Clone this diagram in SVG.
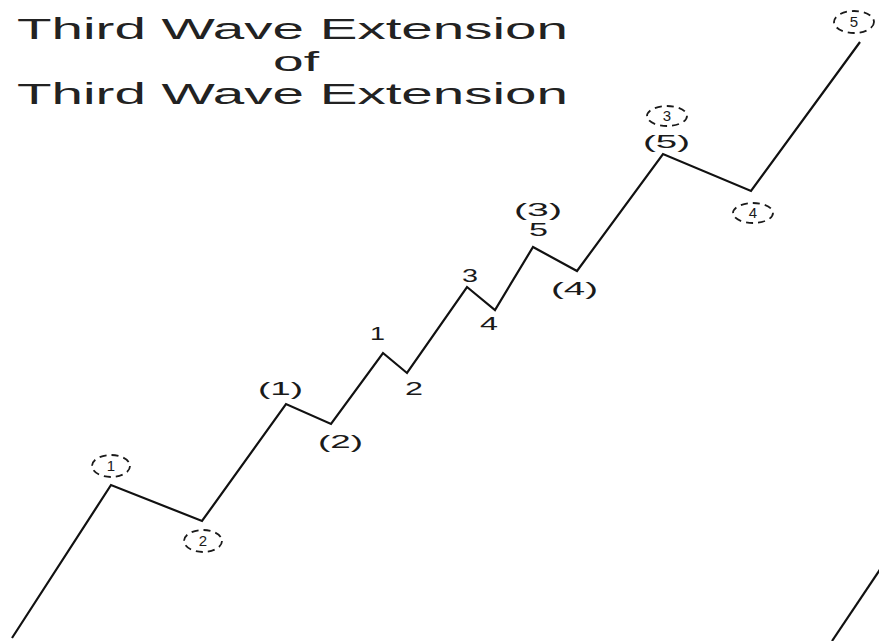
<svg xmlns="http://www.w3.org/2000/svg" width="879" height="641" viewBox="0 0 879 641">
<style>
.title{font-family:"Liberation Sans",Arial,sans-serif;font-size:30px;fill:#222}
.lbl{font-family:"Liberation Sans",Arial,sans-serif;font-size:19px;fill:#1a1a1a}
.cd{font-family:"Liberation Sans",Arial,sans-serif;font-size:15px;fill:#1a1a1a;text-anchor:middle}
.ring{fill:none;stroke:#1a1a1a;stroke-width:1.8;stroke-dasharray:7 5}
.wave{fill:none;stroke:#111;stroke-width:2.2;stroke-linejoin:miter}
</style>
<rect width="879" height="641" fill="#fff"/>
<g id="title">
<text class="title" x="17" y="39" textLength="551" lengthAdjust="spacingAndGlyphs">Third Wave Extension</text>
<text class="title" x="273" y="71" textLength="46" lengthAdjust="spacingAndGlyphs" style="font-size:28px">of</text>
<text class="title" x="17" y="104" textLength="551" lengthAdjust="spacingAndGlyphs">Third Wave Extension</text>
</g>
<g id="connectors">
<polyline class="wave" points="12,638 111,485 202,521 286,404 331,424 383,353 407,373 467,287 495,310 533,247 577,271 663,154 751,191 860,42"/>
<line class="wave" x1="832" y1="641" x2="881" y2="568"/>
</g>
<g id="n-c1"><ellipse class="ring" cx="111" cy="466" rx="19" ry="11"/><text class="cd" x="111" y="471">1</text></g>
<g id="n-c2"><ellipse class="ring" cx="203" cy="541" rx="19" ry="11"/><text class="cd" x="203" y="546">2</text></g>
<g id="n-p1"><text class="lbl" x="258" y="395" textLength="45" lengthAdjust="spacingAndGlyphs">(1)</text></g>
<g id="n-p2"><text class="lbl" x="318" y="448" textLength="45" lengthAdjust="spacingAndGlyphs">(2)</text></g>
<g id="n-1"><text class="lbl" x="370" y="340" textLength="15" lengthAdjust="spacingAndGlyphs">1</text></g>
<g id="n-2"><text class="lbl" x="405" y="395" textLength="18" lengthAdjust="spacingAndGlyphs">2</text></g>
<g id="n-3"><text class="lbl" x="462" y="282" textLength="16" lengthAdjust="spacingAndGlyphs">3</text></g>
<g id="n-4"><text class="lbl" x="480" y="330" textLength="18" lengthAdjust="spacingAndGlyphs">4</text></g>
<g id="n-p3"><text class="lbl" x="514" y="216" textLength="48" lengthAdjust="spacingAndGlyphs">(3)</text></g>
<g id="n-5"><text class="lbl" x="529" y="236" textLength="19" lengthAdjust="spacingAndGlyphs">5</text></g>
<g id="n-p4"><text class="lbl" x="551" y="295" textLength="47" lengthAdjust="spacingAndGlyphs">(4)</text></g>
<g id="n-c3"><ellipse class="ring" cx="667" cy="116" rx="20" ry="10"/><text class="cd" x="667" y="121">3</text></g>
<g id="n-p5"><text class="lbl" x="643" y="148" textLength="47" lengthAdjust="spacingAndGlyphs">(5)</text></g>
<g id="n-c4"><ellipse class="ring" cx="753" cy="213" rx="20" ry="10"/><text class="cd" x="753" y="218">4</text></g>
<g id="n-c5"><ellipse class="ring" cx="854" cy="22" rx="20" ry="11"/><text class="cd" x="854" y="27">5</text></g>
</svg>
